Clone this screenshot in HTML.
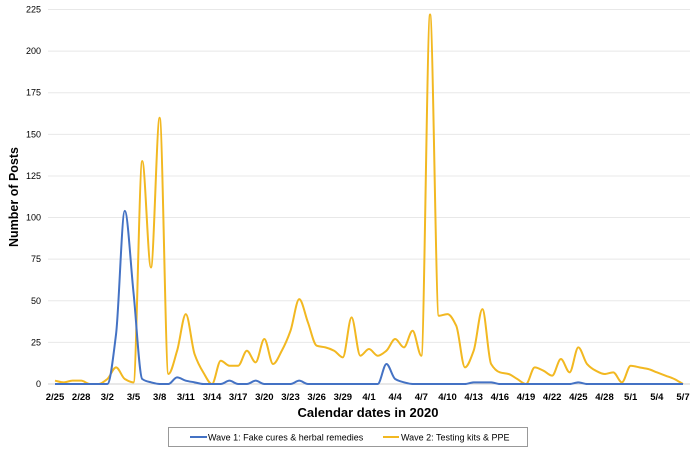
<!DOCTYPE html>
<html><head><meta charset="utf-8"><style>
body{margin:0;background:#fff;}
svg{display:block;font-family:"Liberation Sans",sans-serif;}
</style></head><body>
<svg id="chart" width="698" height="450" viewBox="0 0 698 450">
<g id="grid"></g>
<g id="yticks"></g>
<g id="xticks"></g>
<g id="series"></g>
<text x="18" y="197" transform="rotate(-90 18 197)" text-anchor="middle" font-size="12.5" font-weight="bold" fill="#000">Number of Posts</text>
<text x="368" y="417" text-anchor="middle" font-size="13" font-weight="bold" fill="#000">Calendar dates in 2020</text>
<g>
<rect x="168.5" y="427.5" width="359" height="19" fill="#fff" stroke="#999"/>
<g>
<line x1="190" y1="437" x2="207" y2="437" stroke="#4472C4" stroke-width="2"/>
<text x="208" y="440.5" font-size="9" fill="#000">Wave 1: Fake cures &amp; herbal remedies</text></g>
<g>
<line x1="383" y1="437" x2="399" y2="437" stroke="#F2B821" stroke-width="2"/>
<text x="401" y="440.5" font-size="9" fill="#000">Wave 2: Testing kits  &amp; PPE</text></g>
</g>
</svg>
<script>
const tickLabels=["2/25","2/28","3/2","3/5","3/8","3/11","3/14","3/17","3/20","3/23","3/26","3/29","4/1","4/4","4/7","4/10","4/13","4/16","4/19","4/22","4/25","4/28","5/1","5/4","5/7"];
const yTicks=[0,25,50,75,100,125,150,175,200,225];
const wave1=[0,0,0,0,0,0,0,30,104,55,3,1,0,0,4,2,1,0,0,0,2,0,0,2,0,0,0,0,2,0,0,0,0,0,0,0,0,0,12,3,1,0,0,0,0,0,0,0,1,1,1,0,0,0,0,0,0,0,0,0,1,0,0,0,0,0,0,0,0,0,0,0,0];
const wave2=[2,1,2,2,0,0,3,10,3,1,134,70,160,6,20,42,18,7,0,14,11,11,20,13,27,12,20,32,51,37,23,22,20,16,40,17,21,17,20,27,22,32,17,222,41,42,35,10,20,45,12,7,6,3,0,10,8,5,15,7,22,12,8,6,7,1,11,10,9,7,5,3,0];
const X0=55,X1=683,Y0=384,Y1=9.5,N=wave2.length;
const xs=i=>X0+(X1-X0)*i/(N-1);
const ys=v=>Y0-(Y0-Y1)*v/225;
const NS="http://www.w3.org/2000/svg";
const grid=document.getElementById('grid'),yt=document.getElementById('yticks'),xt=document.getElementById('xticks'),sg=document.getElementById('series');
yTicks.forEach(v=>{
 const l=document.createElementNS(NS,'line');
 
 
 l.setAttribute('x1',48);l.setAttribute('x2',690);l.setAttribute('y1',ys(v));l.setAttribute('y2',ys(v));
 l.setAttribute('stroke',v===0?'#d0d0d0':'#e8e8e8');l.setAttribute('stroke-width',1);
 grid.appendChild(l);
 const t=document.createElementNS(NS,'text');
 
 
 t.setAttribute('x',41);t.setAttribute('y',ys(v)+3);t.setAttribute('text-anchor','end');t.setAttribute('font-size','9');
 t.textContent=v;yt.appendChild(t);
});
tickLabels.forEach((s,k)=>{
 const t=document.createElementNS(NS,'text');
 
 
 t.setAttribute('x',xs(k*3));t.setAttribute('y',400);t.setAttribute('text-anchor','middle');t.setAttribute('font-size','9.5');t.setAttribute('font-weight','bold');
 t.textContent=s;xt.appendChild(t);
});
function smooth(data){
 const n=data.length,h=xs(1)-xs(0);
 const y=data.map(ys);
 const dl=[];for(let i=0;i<n-1;i++)dl.push((y[i+1]-y[i])/h);
 const m=new Array(n);
 m[0]=dl[0];m[n-1]=dl[n-2];
 for(let i=1;i<n-1;i++){
  if(dl[i-1]*dl[i]<=0)m[i]=0;
  else m[i]=2/(1/dl[i-1]+1/dl[i]);
 }
 let d='M'+xs(0)+','+y[0];
 for(let i=0;i<n-1;i++){
  const x0=xs(i),x1=xs(i+1);
  d+=' C'+(x0+h/3)+','+(y[i]+m[i]*h/3)+' '+(x1-h/3)+','+(y[i+1]-m[i+1]*h/3)+' '+x1+','+y[i+1];
 }
 return d;
}
[[wave2,'#F2B821','wave2-line'],[wave1,'#4472C4','wave1-line']].forEach(([data,col,name])=>{
 const p=document.createElementNS(NS,'path');
 
 
 p.setAttribute('d',smooth(data));p.setAttribute('fill','none');p.setAttribute('stroke',col);p.setAttribute('stroke-width','2');
 sg.appendChild(p);
});
</script>
</body></html>
